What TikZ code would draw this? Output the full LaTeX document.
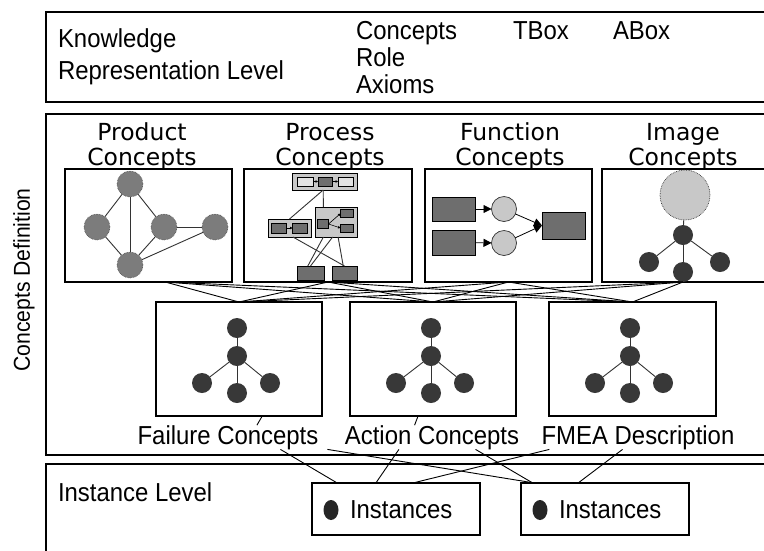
\documentclass[tikz,border=0pt]{standalone}
\usepackage{fontspec}
\setmainfont{Liberation Sans}
\newfontfamily\labfont{Liberation Sans}[FakeStretch=0.92]
\newfontfamily\conffont{DejaVu Sans}
\usetikzlibrary{arrows.meta,calc,shapes.geometric}
\definecolor{gnode}{HTML}{7C7C7C}
\definecolor{lgray}{HTML}{C8C8C8}
\definecolor{vlgray}{HTML}{E2E2E2}
\definecolor{dbox}{HTML}{6E6E6E}
\definecolor{tdark}{HTML}{383838}
\newcommand\LabTxt{\labfont\fontsize{26}{28}\selectfont}
\newcommand\VertTxt{\labfont\fontsize{23}{26}\selectfont}
\newcommand\ConTxt{\conffont\fontsize{23.5}{25}\selectfont}
\tikzset{
  frame/.style={draw, line width=1.2pt, inner sep=0pt, outer sep=0pt},
  txt/.style={font=\LabTxt, inner sep=0pt, outer sep=0pt},
  ctxt/.style={font=\ConTxt, inner sep=0pt, outer sep=0pt, align=center},
  pnode/.style={circle, fill=gnode, draw=black!70, densely dotted, line width=0.6pt, minimum size=26pt, inner sep=0pt, outer sep=0pt},
  tnode/.style={circle, fill=tdark, minimum size=20pt, inner sep=0pt, outer sep=0pt},
  lcirc/.style={circle, fill=lgray, draw=black!80, line width=0.7pt, inner sep=0pt, outer sep=0pt},
  sbox/.style={draw=black, line width=0.8pt, inner sep=0pt, outer sep=0pt},
  edge/.style={line width=0.9pt, draw=black!80},
  lnk/.style={line width=0.9pt, draw=black},
  tinyarr/.style={line width=0.6pt, -{Triangle[length=2.5pt,width=2.5pt]}},
  bigarr/.style={line width=0.8pt, -{Triangle[length=8pt,width=8pt]}},
}
\begin{document}
\begin{tikzpicture}[x=1pt,y=-1pt]
\useasboundingbox (0,0) rectangle (764,550);
\clip (0,0) rectangle (764,550);
\fill[white] (0,0) rectangle (764,550);

% ---------- main frames ----------
\node[frame, minimum width=729pt, minimum height=90pt] (krl) at (410.5,57) {};
\node[frame, minimum width=729pt, minimum height=341pt] (cdef) at (410.5,284.5) {};
\node[frame, minimum width=729pt, minimum height=96pt] (inst) at (410.5,512) {};

% ---------- top level texts ----------
\node[txt, anchor=base west] (tknow) at (58,47) {Knowledge};
\node[txt, anchor=base west] (trep) at (58,79) {Representation Level};
\node[txt, anchor=base west] (tconc) at (356,39) {Concepts};
\node[txt, anchor=base west] (trole) at (356,66) {Role};
\node[txt, anchor=base west] (taxi) at (356,93) {Axioms};
\node[txt, anchor=base west] (ttbox) at (513,39) {TBox};
\node[txt, anchor=base west] (tabox) at (613,39) {ABox};

\node[font=\VertTxt, inner sep=0pt, rotate=90] (tcd) at (24,280) {Concepts Definition};

% ---------- top row boxes ----------
\node[frame, minimum width=167pt, minimum height=113pt] (prod) at (148.5,225.5) {};
\node[frame, minimum width=168pt, minimum height=113pt] (proc) at (328,225.5) {};
\node[frame, minimum width=167pt, minimum height=113pt] (func) at (508.5,225.5) {};
\node[frame, minimum width=167pt, minimum height=113pt] (imag) at (685.5,225.5) {};

\node[ctxt, anchor=base] (lprod) at (142,165.5) {Product\\Concepts};
\node[ctxt, anchor=base] (lproc) at (330,165.5) {Process\\Concepts};
\node[ctxt, anchor=base] (lfunc) at (510,165.5) {Function\\Concepts};
\node[ctxt, anchor=base] (limag) at (683,165.5) {Image\\Concepts};

% ---------- product graph ----------
\node[pnode] (p1) at (130,184) {};
\node[pnode] (p2) at (97,227) {};
\node[pnode] (p3) at (164,227) {};
\node[pnode] (p4) at (215,227) {};
\node[pnode] (p5) at (130,265) {};
\draw[edge] (p1) -- (p2);
\draw[edge] (p1) -- (p5);
\draw[edge] (p1) -- (p3);
\draw[edge] (p2) -- (p5);
\draw[edge] (p3) -- (p5);
\draw[edge] (p3) -- (p4);
\draw[edge] (p4) -- (p5);

% ---------- process graph ----------
\node[sbox, fill=lgray, minimum width=65pt, minimum height=17pt] (pc1) at (324.5,181.5) {};
\node[sbox, fill=vlgray, minimum width=16pt, minimum height=9pt] (a1) at (305,181.5) {};
\node[sbox, fill=dbox, minimum width=14pt, minimum height=9pt] (a2) at (325,181.5) {};
\node[sbox, fill=vlgray, minimum width=15pt, minimum height=9pt] (a3) at (345.5,181.5) {};
\draw[tinyarr] (a1) -- (a2);
\draw[tinyarr] (a2) -- (a3);

\node[sbox, fill=lgray, minimum width=43pt, minimum height=18pt] (pc2) at (289.5,228) {};
\node[sbox, fill=dbox, minimum width=15pt, minimum height=10pt] (b1) at (279,228) {};
\node[sbox, fill=dbox, minimum width=15pt, minimum height=10pt] (b2) at (300,228) {};
\draw[tinyarr] (b1) -- (b2);

\node[sbox, fill=lgray, minimum width=42pt, minimum height=30pt] (pc3) at (336,222) {};
\node[sbox, fill=dbox, minimum width=11pt, minimum height=9pt] (c1) at (323,224) {};
\node[sbox, fill=dbox, minimum width=13pt, minimum height=8pt] (c2) at (347,213.5) {};
\node[sbox, fill=dbox, minimum width=13pt, minimum height=8pt] (c3) at (347,228) {};
\draw[tinyarr] (c1.east) -- (c2.west);
\draw[tinyarr] (c1.east) -- (c3.west);

\node[sbox, fill=dbox, minimum width=27pt, minimum height=14pt] (d1) at (310.5,273) {};
\node[sbox, fill=dbox, minimum width=25pt, minimum height=14pt] (d2) at (344.5,273) {};

\draw[edge] ($(pc1.south west)!0.48!(pc1.south east)$) -- ($(pc2.north west)!0.5!(pc2.north east)$);
\draw[edge] ($(pc1.south west)!0.48!(pc1.south east)$) -- ($(pc3.north west)!0.2!(pc3.north east)$);
\draw[edge] ($(pc2.south west)!0.58!(pc2.south east)$) -- ($(d2.north west)!0.5!(d2.north east)$);
\draw[edge] ($(pc3.south west)!0.42!(pc3.south east)$) -- ($(d1.north west)!0.5!(d1.north east)$);
\draw[edge] ($(pc3.south west)!0.2!(pc3.south east)$) -- ($(d1.north west)!0.4!(d1.north east)$);
\draw[edge] ($(pc3.south west)!0.55!(pc3.south east)$) -- ($(d2.north west)!0.45!(d2.north east)$);

% ---------- function graph ----------
\node[sbox, fill=dbox, minimum width=43pt, minimum height=24pt] (f1) at (453.5,209) {};
\node[sbox, fill=dbox, minimum width=43pt, minimum height=25pt] (f2) at (453.5,242.5) {};
\node[lcirc, minimum size=25pt] (fc1) at (504,209) {};
\node[lcirc, minimum size=25pt] (fc2) at (504,243) {};
\node[sbox, fill=dbox, minimum width=43pt, minimum height=27pt] (f3) at (563.5,225.5) {};
\draw[bigarr] (f1) -- (fc1);
\draw[bigarr] (f2) -- (fc2);
\draw[bigarr] (fc1) -- (f3.west);
\draw[bigarr] (fc2) -- (f3.west);

% ---------- image graph ----------
\node[lcirc, densely dotted, minimum size=50pt] (ic) at (685,195) {};
\node[tnode] (ih) at (683,235) {};
\node[tnode] (il) at (649,262) {};
\node[tnode] (ir) at (720,262) {};
\node[tnode] (ib) at (683,272) {};
\draw[edge] (ic) -- (ih);
\draw[edge] (ih) -- (il);
\draw[edge] (ih) -- (ir);
\draw[edge] (ih) -- (ib);

% ---------- middle boxes ----------
\node[frame, minimum width=166pt, minimum height=114pt] (fail) at (239,359) {};
\node[frame, minimum width=166pt, minimum height=114pt] (act) at (433,359) {};
\node[frame, minimum width=167pt, minimum height=114pt] (fmea) at (632.5,359) {};

\foreach \n/\cx in {fa/237, ac/431, fm/630}{
  \node[tnode] (\n-top) at (\cx,328) {};
  \node[tnode] (\n-hub) at (\cx,356) {};
  \node[tnode] (\n-lft) at (\cx-35,383) {};
  \node[tnode] (\n-rgt) at (\cx+33,383) {};
  \node[tnode] (\n-bot) at (\cx,393) {};
  \draw[edge] (\n-top) -- (\n-hub);
  \draw[edge] (\n-hub) -- (\n-lft);
  \draw[edge] (\n-hub) -- (\n-rgt);
  \draw[edge] (\n-hub) -- (\n-bot);
}

% ---------- connectors top row -> middle row ----------
\coordinate (sprod) at ($(prod.south west)!0.6!(prod.south east)$);
\coordinate (sproc) at (proc.south);
\coordinate (sfunc) at (func.south);
\coordinate (simag) at (ib.south);
\foreach \s in {sprod,sproc,sfunc,simag}{
  \foreach \tg in {fail,act,fmea}{
    \draw[lnk] (\s) -- (\tg.north);
  }
}

% ---------- labels of middle boxes ----------
\node[txt, anchor=base] (lfail) at (228,444) {Failure Concepts};
\node[txt, anchor=base] (lact) at (432,444) {Action Concepts};
\node[txt, anchor=base] (lfmea) at (638,444) {FMEA Description};
\draw[lnk] ($(fail.south west)!0.64!(fail.south east)$) -- ($(lfail.north west)!0.66!(lfail.north east)$);
\draw[lnk] ($(act.south west)!0.41!(act.south east)$) -- ($(lact.north west)!0.40!(lact.north east)$);

% ---------- instance level ----------
\node[txt, anchor=base west] (tinst) at (58,501) {Instance Level};
\node[frame, minimum width=168pt, minimum height=52pt] (i1) at (396,509) {};
\node[frame, minimum width=168pt, minimum height=52pt] (i2) at (605,509) {};
\node[ellipse, fill=black!85, minimum width=15pt, minimum height=20pt, inner sep=0pt] (d1dot) at (331,510) {};
\node[ellipse, fill=black!85, minimum width=15pt, minimum height=20pt, inner sep=0pt] (d2dot) at (540,510) {};
\node[txt, anchor=base west] (ti1) at (350,518) {Instances};
\node[txt, anchor=base west] (ti2) at (559,518) {Instances};

\draw[lnk] ($(lfail.south west)!0.79!(lfail.south east)$) -- ($(i1.north west)!0.15!(i1.north east)$);
\draw[lnk] ($(lact.south west)!0.31!(lact.south east)$) -- ($(i1.north west)!0.38!(i1.north east)$);
\draw[lnk] ($(lfmea.south west)!0.04!(lfmea.south east)$) -- ($(i1.north west)!0.60!(i1.north east)$);
\draw[lnk] ($(lfail.south west)!1.05!(lfail.south east)$) -- ($(i2.north west)!0.08!(i2.north east)$);
\draw[lnk] ($(lact.south west)!0.75!(lact.south east)$) -- ($(i2.north west)!0.07!(i2.north east)$);
\draw[lnk] ($(lfmea.south west)!0.42!(lfmea.south east)$) -- ($(i2.north west)!0.34!(i2.north east)$);
\end{tikzpicture}
\end{document}
